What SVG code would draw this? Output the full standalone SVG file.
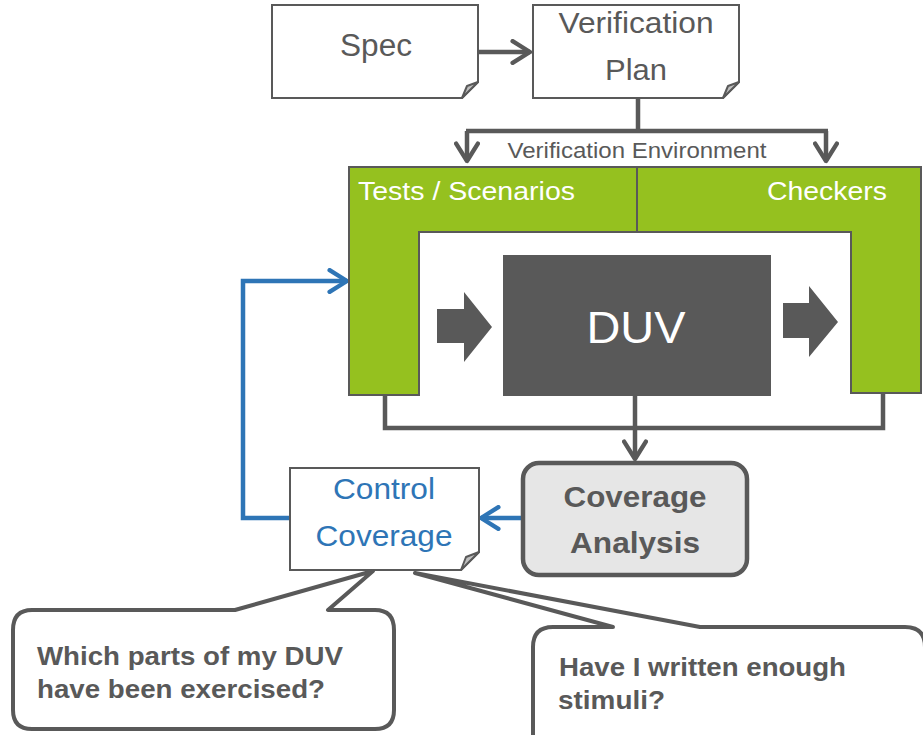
<svg xmlns="http://www.w3.org/2000/svg" width="923" height="735" viewBox="0 0 923 735">
  <defs>
    <style>
      .txt { font-family: "Liberation Sans", Arial, sans-serif; fill: #595959; }
      .note { fill: #ffffff; stroke: #595959; stroke-width: 2; }
      .fold { fill: #bfbfbf; stroke: #595959; stroke-width: 2; stroke-linejoin: round; }
      .conn { fill: none; stroke: #595959; stroke-width: 4.5; }
      .blue { fill: none; stroke: #2e75b6; stroke-width: 4.5; }
      .green { fill: #95c11f; stroke: #595959; stroke-width: 2; }
      .callout { fill: #ffffff; stroke: #595959; stroke-width: 4; stroke-linejoin: round; }
    </style>
    <marker id="chev" viewBox="0 0 12 12" refX="10" refY="6" markerWidth="5.8" markerHeight="5.8" orient="auto" markerUnits="strokeWidth">
      <path d="M2,1 L10,6 L2,11" fill="none" stroke="#595959" stroke-width="2" stroke-linecap="round" stroke-linejoin="round"/>
    </marker>
    <marker id="chevBlue" viewBox="0 0 12 12" refX="10" refY="6" markerWidth="5.8" markerHeight="5.8" orient="auto" markerUnits="strokeWidth">
      <path d="M2,1 L10,6 L2,11" fill="none" stroke="#2e75b6" stroke-width="2" stroke-linecap="round" stroke-linejoin="round"/>
    </marker>
  </defs>

  <rect width="923" height="735" fill="#ffffff"/>

  <!-- connectors -->
  <g id="connectors">
    <line class="conn" x1="479" y1="52" x2="530" y2="52" marker-end="url(#chev)"/>
    <path class="conn" d="M638,99 V131 M466,131 H828"/>
    <line class="conn" x1="467" y1="131" x2="467" y2="161" marker-end="url(#chev)"/>
    <line class="conn" x1="826" y1="131" x2="826" y2="161" marker-end="url(#chev)"/>
    <path class="conn" d="M385,395 V428 H883 V393"/>
    <line class="conn" x1="635" y1="396" x2="635" y2="459" marker-end="url(#chev)"/>
    <line class="blue" x1="521" y1="518" x2="481" y2="518" marker-end="url(#chevBlue)"/>
    <path class="blue" d="M290,518 H243 V281 H347" marker-end="url(#chevBlue)"/>
  </g>

  <!-- Spec document -->
  <g id="spec">
    <path class="note" d="M272,5 H478 V82 L462,98 H272 Z"/>
    <path class="fold" d="M462,98 L467,86 L478,82 Z"/>
    <text class="txt" x="376" y="56" font-size="31" text-anchor="middle" textLength="72" lengthAdjust="spacingAndGlyphs">Spec</text>
  </g>

  <!-- Verification Plan document -->
  <g id="verification-plan">
    <path class="note" d="M533,5 H739 V82 L723,98 H533 Z"/>
    <path class="fold" d="M723,98 L728,86 L739,82 Z"/>
    <text class="txt" x="636" y="33" font-size="30" text-anchor="middle" textLength="155" lengthAdjust="spacingAndGlyphs">Verification</text>
    <text class="txt" x="636" y="80" font-size="30" text-anchor="middle" textLength="62" lengthAdjust="spacingAndGlyphs">Plan</text>
  </g>

  <!-- Verification environment -->
  <g id="verification-environment">
    <text class="txt" x="637" y="158" font-size="22" text-anchor="middle" textLength="259" lengthAdjust="spacingAndGlyphs">Verification Environment</text>
  </g>

  <g id="tests-scenarios">
    <path class="green" d="M349,167 H637 V232 H419 V395 H349 Z"/>
    <text class="txt" x="358" y="200" font-size="26" textLength="217" lengthAdjust="spacingAndGlyphs" style="fill:#ffffff">Tests / Scenarios</text>
  </g>

  <g id="checkers">
    <path class="green" d="M637,167 H921 V393 H851 V232 H637 Z"/>
    <text class="txt" x="767" y="200" font-size="26" textLength="120" lengthAdjust="spacingAndGlyphs" style="fill:#ffffff">Checkers</text>
  </g>

  <g id="duv">
    <rect x="503" y="255" width="268" height="141" fill="#595959"/>
    <path d="M437,309 H464 V292 L492,327 L464,362 V343 H437 Z" fill="#595959"/>
    <path d="M783,303 H809 V286 L838,322 L809,357 V338 H783 Z" fill="#595959"/>
    <text class="txt" x="636" y="343" font-size="45" text-anchor="middle" textLength="99" lengthAdjust="spacingAndGlyphs" style="fill:#ffffff">DUV</text>
  </g>

  <!-- Coverage analysis -->
  <g id="coverage-analysis">
    <rect x="523" y="463" width="224" height="112" rx="16" fill="#e6e6e6" stroke="#595959" stroke-width="4.5"/>
    <text class="txt" x="635" y="507" font-size="29" font-weight="bold" text-anchor="middle" textLength="143" lengthAdjust="spacingAndGlyphs">Coverage</text>
    <text class="txt" x="635" y="553" font-size="29" font-weight="bold" text-anchor="middle" textLength="130" lengthAdjust="spacingAndGlyphs">Analysis</text>
  </g>

  <!-- Control coverage document -->
  <g id="control-coverage">
    <path class="note" d="M290,468 H479 V552 L461,570 H290 Z"/>
    <path class="fold" d="M461,570 L466,557 L479,552 Z"/>
    <text class="txt" x="384" y="499" font-size="30" text-anchor="middle" textLength="102" lengthAdjust="spacingAndGlyphs" style="fill:#2e75b6">Control</text>
    <text class="txt" x="384" y="546" font-size="30" text-anchor="middle" textLength="137" lengthAdjust="spacingAndGlyphs" style="fill:#2e75b6">Coverage</text>
  </g>

  <!-- Question callouts -->
  <g id="callout-exercised">
    <path class="callout" d="M32,610 H235 L373,571 L328,610 H375 Q394,610 394,630 V710 Q394,729 375,729 H32 Q13,729 13,710 V630 Q13,610 32,610 Z"/>
    <text class="txt" x="37" y="665" font-size="26" font-weight="bold" textLength="306" lengthAdjust="spacingAndGlyphs">Which parts of my DUV</text>
    <text class="txt" x="37" y="698" font-size="26" font-weight="bold" textLength="288" lengthAdjust="spacingAndGlyphs">have been exercised?</text>
  </g>

  <g id="callout-stimuli">
    <path class="callout" d="M553,627 H613 L415,573 L700,627 H905 Q925,627 925,647 V745 H533 V647 Q533,627 553,627 Z"/>
    <text class="txt" x="559" y="676" font-size="26" font-weight="bold" textLength="287" lengthAdjust="spacingAndGlyphs">Have I written enough</text>
    <text class="txt" x="558" y="709" font-size="26" font-weight="bold" textLength="107" lengthAdjust="spacingAndGlyphs">stimuli?</text>
  </g>
</svg>
